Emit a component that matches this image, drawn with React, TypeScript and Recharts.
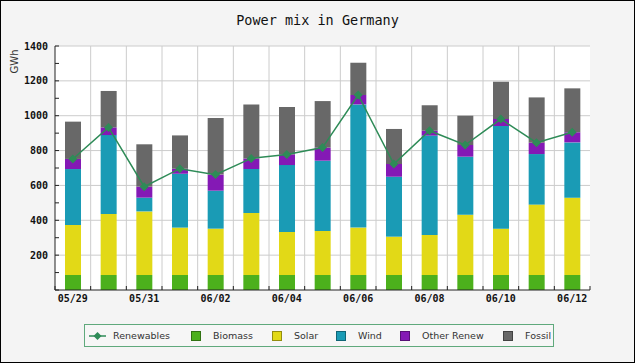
import { ComposedChart, Bar, Line, XAxis, YAxis, CartesianGrid } from 'recharts';

const days = ['05/29', '05/30', '05/31', '06/01', '06/02', '06/03', '06/04', '06/05', '06/06', '06/07', '06/08', '06/09', '06/10', '06/11', '06/12'];
const biomass = [86, 86, 86, 86, 86, 86, 86, 86, 86, 86, 86, 86, 86, 86, 86];
const solar = [287, 350, 365, 272, 266, 356, 247, 253, 272, 220, 230, 346, 266, 404, 444];
const wind = [321, 453, 79, 309, 218, 252, 384, 403, 707, 344, 570, 333, 589, 290, 317];
const otherRenew = [58, 44, 63, 29, 92, 61, 61, 75, 54, 73, 28, 67, 40, 65, 58];
const fossil = [214, 209, 243, 191, 325, 310, 272, 267, 185, 201, 146, 168, 214, 260, 252];
const renewables = [752, 933, 593, 696, 662, 755, 778, 817, 1119, 723, 914, 832, 981, 845, 905];

const yTicks = [0, 100, 200, 300, 400, 500, 600, 700, 800, 900, 1000, 1100, 1200, 1300, 1400];
const yGrid = [200, 400, 600, 800, 1000, 1200, 1400];

const data = days.map((day, i) => ({
  day,
  biomass: biomass[i],
  solar: solar[i],
  wind: wind[i],
  other: otherRenew[i],
  fossil: fossil[i],
  renewables: renewables[i],
}));

const colors = {
  biomass: '#4cb01c',
  solar: '#e2d917',
  wind: '#1a9bb5',
  other: '#8419b5',
  fossil: '#686868',
  line: '#2e8b57',
};

const W = 633;
const H = 361;
const PLOT_W = 535;
const HALF_BAND = PLOT_W / days.length / 2;
const mono = '"DejaVu Sans Mono", monospace';
const sans = '"DejaVu Sans", sans-serif';

const YTick = (props: any) => {
  const { x, y, payload } = props;
  const v = payload.value;
  return (
    <g>
      <line x1={x} y1={y} x2={x + 4} y2={y} stroke="#222" />
      {v > 0 && v % 200 === 0 && (
        <text x={x - 7} y={y} dy="0.35em" textAnchor="end" fontFamily={mono} fontWeight="bold" fontSize={10} fill="#111">
          {v}
        </text>
      )}
    </g>
  );
};

const XTick = (props: any) => {
  const { x, y, payload, index } = props;
  return (
    <g>
      <line x1={x - HALF_BAND} y1={y} x2={x - HALF_BAND} y2={y - 4} stroke="#222" />
      {index === days.length - 1 && <line x1={x + HALF_BAND} y1={y} x2={x + HALF_BAND} y2={y - 4} stroke="#222" />}
      {index % 2 === 0 && (
        <text x={x} y={y + 12} textAnchor="middle" fontFamily={mono} fontWeight="bold" fontSize={10} fill="#111">
          {payload.value}
        </text>
      )}
    </g>
  );
};

const Diamond = (props: any) => {
  const { cx, cy } = props;
  if (cx == null || cy == null) return null;
  const r = 4.5;
  return <polygon points={`${cx},${cy - r} ${cx + r},${cy} ${cx},${cy + r} ${cx - r},${cy}`} fill={colors.line} />;
};

const legendItems = [
  { name: 'Renewables', color: colors.line, kind: 'line', left: 4 },
  { name: 'Biomass', color: colors.biomass, kind: 'box', left: 106 },
  { name: 'Solar', color: colors.solar, kind: 'box', left: 187 },
  { name: 'Wind', color: colors.wind, kind: 'box', left: 251 },
  { name: 'Other Renew', color: colors.other, kind: 'box', left: 315 },
  { name: 'Fossil', color: colors.fossil, kind: 'box', left: 418 },
];

const App = () => {
  return (
    <div
      style={{
        position: 'absolute',
        left: 0,
        top: 0,
        width: 635,
        height: 363,
        border: '1px solid #000',
        boxSizing: 'border-box',
        background: '#f4f4f4',
      }}
    >
      <div
        style={{
          position: 'absolute',
          top: 11,
          left: 0,
          width: W,
          textAlign: 'center',
          fontFamily: mono,
          fontSize: 13.5,
          color: '#111',
        }}
      >
        Power mix in Germany
      </div>
      <div
        style={{
          position: 'absolute',
          left: -7,
          top: 55,
          width: 40,
          textAlign: 'center',
          transform: 'rotate(-90deg)',
          fontFamily: sans,
          fontSize: 10,
          color: '#333',
        }}
      >
        GWh
      </div>
      <ComposedChart
        width={W}
        height={H}
        data={data}
        margin={{ top: 45, right: 44, bottom: 52, left: 4 }}
        barSize={16}
      >
        <CartesianGrid
          stroke="#cccccc"
          fill="#ffffff"
          horizontalCoordinatesGenerator={(p: any) =>
            yGrid.map((v) => (p.yAxis && typeof p.yAxis.scale === 'function' ? p.yAxis.scale(v) : 45 + 244 * (1 - v / 1400)))
          }
          verticalCoordinatesGenerator={(p: any) => {
            const left = p.offset ? p.offset.left : 54;
            const width = p.offset ? p.offset.width : PLOT_W;
            return days.map((_, i) => left + (i * width) / days.length).slice(1);
          }}
        />
        <XAxis
          dataKey="day"
          height={20}
          interval={0}
          tickSize={0}
          tickMargin={0}
          tickLine={false}
          tick={<XTick />}
          axisLine={{ stroke: '#222' }}
        />
        <YAxis
          width={50}
          domain={[0, 1400]}
          ticks={yTicks}
          interval={0}
          tickSize={0}
          tickMargin={0}
          tickLine={false}
          tick={<YTick />}
          axisLine={{ stroke: '#222' }}
        />
        <Bar dataKey="biomass" stackId="a" fill={colors.biomass} isAnimationActive={false} />
        <Bar dataKey="solar" stackId="a" fill={colors.solar} isAnimationActive={false} />
        <Bar dataKey="wind" stackId="a" fill={colors.wind} isAnimationActive={false} />
        <Bar dataKey="other" stackId="a" fill={colors.other} isAnimationActive={false} />
        <Bar dataKey="fossil" stackId="a" fill={colors.fossil} isAnimationActive={false} />
        <Line
          dataKey="renewables"
          stroke={colors.line}
          strokeWidth={1.5}
          dot={<Diamond />}
          activeDot={false}
          isAnimationActive={false}
        />
      </ComposedChart>
      <div
        style={{
          position: 'absolute',
          left: 83,
          top: 323,
          width: 468,
          height: 21,
          border: '1px solid #5fa97c',
          background: '#f6f6f6',
          fontFamily: sans,
          fontSize: 9.5,
          color: '#333',
        }}
      >
        {legendItems.map((it) => (
          <div key={it.name} style={{ position: 'absolute', left: it.left, top: 0, height: 21, display: 'flex', alignItems: 'center' }}>
            {it.kind === 'line' ? (
              <svg width={17} height={10} style={{ marginRight: 7 }}>
                <line x1={0} y1={5} x2={17} y2={5} stroke={it.color} strokeWidth={1.5} />
                <polygon points="8.5,1 12.5,5 8.5,9 4.5,5" fill={it.color} />
              </svg>
            ) : (
              <div
                style={{
                  width: 8,
                  height: 8,
                  background: it.color,
                  border: '1px solid rgba(0,0,0,0.35)',
                  marginRight: 12,
                }}
              />
            )}
            <span>{it.name}</span>
          </div>
        ))}
      </div>
    </div>
  );
};

export default App;
